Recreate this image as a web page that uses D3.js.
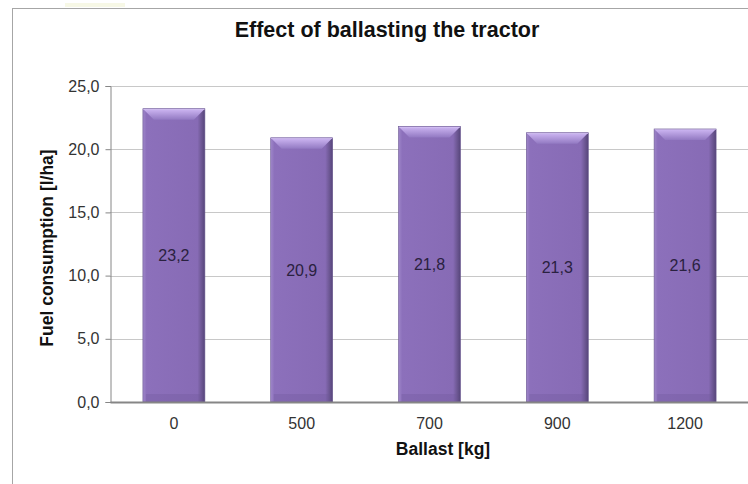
<!DOCTYPE html>
<html><head><meta charset="utf-8">
<script src="https://cdn.jsdelivr.net/npm/d3@7"></script>
<style>html,body{margin:0;padding:0;background:#fff;overflow:hidden}</style>
</head><body>
<svg id="c" width="748" height="484"></svg>
<script>
const categories = ["0", "500", "700", "900", "1200"];
const values = [23.2, 20.9, 21.8, 21.3, 21.6];
const valueLabels = ["23,2", "20,9", "21,8", "21,3", "21,6"];
const yTicks = [0, 5, 10, 15, 20, 25];
const yTickLabels = ["0,0", "5,0", "10,0", "15,0", "20,0", "25,0"];

const svg = d3.select("#c");
const font = "Arial, 'Liberation Sans', sans-serif";
const defs = svg.append("defs");

const bodyGrad = defs.append("linearGradient").attr("id", "body").attr("x1", 0).attr("x2", 1).attr("y1", 0).attr("y2", 0);
bodyGrad.append("stop").attr("offset", 0).attr("stop-color", "#9e86c9");
bodyGrad.append("stop").attr("offset", 0.06).attr("stop-color", "#8c70bb");
bodyGrad.append("stop").attr("offset", 0.88).attr("stop-color", "#876bb5");
bodyGrad.append("stop").attr("offset", 0.94).attr("stop-color", "#6f5996");
bodyGrad.append("stop").attr("offset", 1).attr("stop-color", "#56457a");

const topGrad = defs.append("linearGradient").attr("id", "topb").attr("x1", 0).attr("x2", 0).attr("y1", 0).attr("y2", 1);
topGrad.append("stop").attr("offset", 0).attr("stop-color", "#cfb8f4");
topGrad.append("stop").attr("offset", 1).attr("stop-color", "#9279c2");

// frame
svg.append("line").attr("x1", 12).attr("x2", 748).attr("y1", 8.5).attr("y2", 8.5).attr("stroke", "#a6a6a6");
svg.append("line").attr("x1", 12.5).attr("x2", 12.5).attr("y1", 8).attr("y2", 484).attr("stroke", "#a6a6a6");
svg.append("rect").attr("x", 65).attr("y", 3).attr("width", 60).attr("height", 4).attr("fill", "#f4f5dc").attr("opacity", 0.7);

const x = d3.scaleBand().domain(categories).range([110, 749]).paddingInner(0.515).paddingOuter(0.2575);
const y = d3.scaleLinear().domain([0, 25]).range([402, 86]);

// gridlines
svg.append("g").selectAll("line").data(yTicks.filter(d => d > 0)).join("line")
  .attr("x1", 110).attr("x2", 748)
  .attr("y1", d => Math.round(y(d)) + 0.5).attr("y2", d => Math.round(y(d)) + 0.5)
  .attr("stroke", "#c8c8c8");

// y axis
const yAxis = d3.axisLeft(y).tickValues(yTicks).tickSize(5).tickPadding(6)
  .tickFormat((d, i) => yTickLabels[i]);
const gy = svg.append("g").attr("transform", "translate(110.5,0)").call(yAxis);
gy.select(".domain").attr("stroke", "#868686");
gy.selectAll(".tick line").attr("stroke", "#868686");
gy.selectAll(".tick text").attr("font-family", font).attr("font-size", 16).attr("fill", "#333");

// bars
const bars = svg.append("g").selectAll("g").data(values).join("g");
const b = 11;
bars.each(function(d, i) {
  const g = d3.select(this);
  const x0 = x(categories[i]), w = x.bandwidth();
  const y0 = y(d), y1 = y(0);
  g.append("rect").attr("x", x0).attr("y", y0).attr("width", w).attr("height", y1 - y0).attr("fill", "url(#body)");
  g.append("rect").attr("x", x0 + 3).attr("y", y1 - 8).attr("width", w - 6).attr("height", 8).attr("fill", "#6c5697").attr("opacity", 0.3);
  g.append("polygon").attr("points", [[x0, y0], [x0 + w, y0], [x0 + w - b, y0 + b], [x0 + b, y0 + b]].map(p => p.join(",")).join(" "))
    .attr("fill", "url(#topb)");
  g.append("line").attr("x1", x0).attr("x2", x0 + w).attr("y1", y0 + 0.5).attr("y2", y0 + 0.5).attr("stroke", "#d6c4f4");
  g.append("rect").attr("x", x0).attr("y", y0).attr("width", w).attr("height", y1 - y0).attr("fill", "none").attr("stroke", "#6a5890").attr("stroke-width", 0.6);
  g.append("text").attr("x", x0 + w / 2).attr("y", (y0 + y1) / 2).attr("dy", "0.35em")
    .attr("text-anchor", "middle").attr("font-family", font).attr("font-size", 16).attr("fill", "#2a2140")
    .text(valueLabels[i]);
});

// x axis
const xAxis = d3.axisBottom(x).tickSize(0).tickPadding(16);
const gx = svg.append("g").attr("transform", "translate(0,402)").call(xAxis);
gx.select(".domain").attr("stroke", "#868686").attr("stroke-width", 2);
gx.selectAll(".tick text").attr("font-family", font).attr("font-size", 16).attr("fill", "#333");

// titles
svg.append("text").attr("x", 387).attr("y", 37).attr("text-anchor", "middle")
  .attr("font-family", font).attr("font-size", 21.5).attr("font-weight", "bold").attr("fill", "#111")
  .text("Effect of ballasting the tractor");
svg.append("text").attr("x", 443).attr("y", 455).attr("text-anchor", "middle")
  .attr("font-family", font).attr("font-size", 17.5).attr("font-weight", "bold").attr("fill", "#111")
  .text("Ballast [kg]");
svg.append("text").attr("transform", "translate(53,248) rotate(-90)").attr("text-anchor", "middle")
  .attr("font-family", font).attr("font-size", 17.5).attr("font-weight", "bold").attr("fill", "#111")
  .text("Fuel consumption [l/ha]");
</script>
</body></html>
